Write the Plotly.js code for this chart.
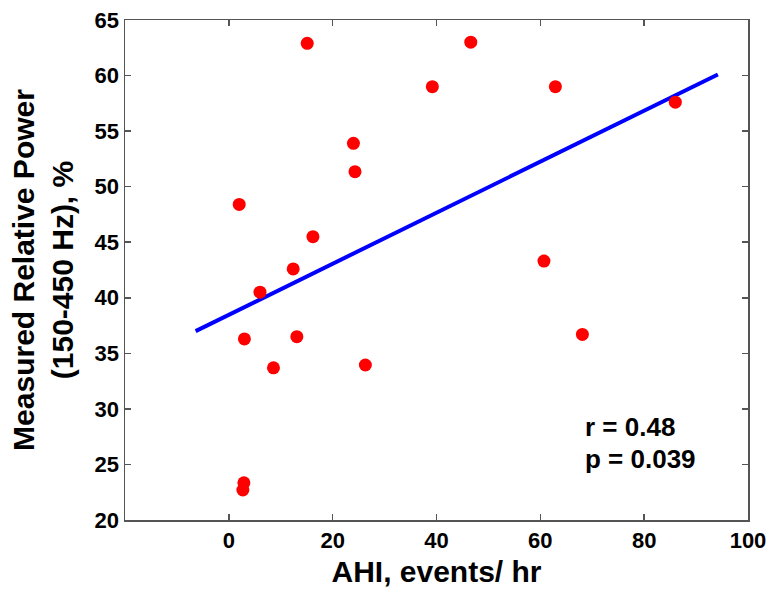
<!DOCTYPE html>
<html>
<head>
<meta charset="utf-8">
<script src="https://cdn.plot.ly/plotly-3.0.1.min.js"></script>
<style>html,body{margin:0;padding:0;background:#fff;}#chart{width:772px;height:594px;}</style>
</head>
<body>
<div id="chart"></div>
<script>
// Data
const ahi = [15.1, 46.6, 39.2, 62.9, 86.0, 24.0, 24.3, 16.2, 12.4, 6.0, 60.7, 2.0, 3.0, 13.1, 8.6, 26.3, 68.1, 2.9, 2.7];
const power = [62.9, 63.0, 59.0, 59.0, 57.6, 53.9, 51.35, 45.5, 42.6, 40.5, 43.3, 48.4, 36.3, 36.5, 33.7, 33.95, 36.7, 23.35, 22.7];
const fitX = [-6.4, 94.2];
const fitY = [37.0, 60.1];
const xTicks = [0, 20, 40, 60, 80, 100];
const yTicks = [20, 25, 30, 35, 40, 45, 50, 55, 60, 65];
const statLines = ["r = 0.48", "p = 0.039"];

const font = "Liberation Sans, Arial, Helvetica, sans-serif";

const traces = [
  {
    x: fitX, y: fitY, type: "scatter", mode: "lines",
    line: {color: "#0000ff", width: 4}, hoverinfo: "skip"
  },
  {
    x: ahi, y: power, type: "scatter", mode: "markers",
    marker: {color: "#ff0000", size: 13, line: {width: 0}}
  }
];

const axisCommon = {
  showgrid: false, zeroline: false,
  showline: true, linecolor: "#555555", linewidth: 1.5, mirror: "ticks",
  ticks: "inside", ticklen: 6, tickwidth: 1.5, tickcolor: "#555555",
  tickfont: {family: font, size: 22, color: "#000", weight: "bold"}
};

const layout = {
  width: 772, height: 594,
  margin: {l: 125, r: 24, t: 20, b: 74},
  paper_bgcolor: "#fff", plot_bgcolor: "#fff",
  showlegend: false,
  xaxis: Object.assign({}, axisCommon, {
    range: [-20, 100], tickmode: "array", tickvals: xTicks, ticktext: xTicks.map(String),
    title: {text: "AHI, events/ hr", font: {family: font, size: 30, color: "#000", weight: "bold"}, standoff: 9}
  }),
  yaxis: Object.assign({}, axisCommon, {
    range: [20, 65], tickmode: "array", tickvals: yTicks, ticktext: yTicks.map(String),
    title: {text: "Measured Relative Power<br>(150-450 Hz), %", font: {family: font, size: 30, color: "#000", weight: "bold"}, standoff: 12}
  }),
  annotations: statLines.map((t, i) => ({
    text: t, xref: "x", yref: "y", x: 68.3, y: i === 0 ? 28.4 : 25.5,
    xanchor: "left", yanchor: "middle", showarrow: false,
    font: {family: font, size: 26, color: "#000", weight: "bold"}
  }))
};

Plotly.newPlot("chart", traces, layout, {displayModeBar: false, staticPlot: true});
</script>
</body>
</html>
